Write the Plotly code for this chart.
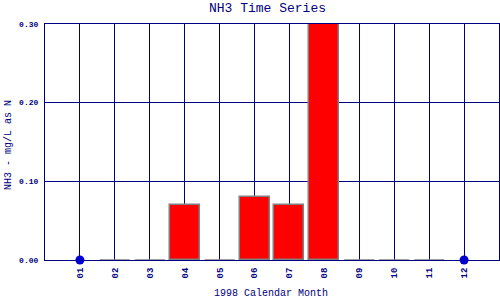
import plotly.graph_objects as go

months = list(range(1, 13))
month_labels = ["01", "02", "03", "04", "05", "06", "07", "08", "09", "10", "11", "12"]
nh3 = [None, 0.0, 0.0, 0.07, 0.0, 0.08, 0.07, 0.30, 0.0, 0.0, 0.0, None]
y_ticks = [0.0, 0.10, 0.20, 0.30]

NAVY = "#000080"
FONT = "Liberation Mono"
BAR_W = 0.86

# plot area in pixels
L, R, T, B = 45, 499, 24, 260
W, H = R - L, B - T


def px_x(x):
    return (x - L) / W


def px_y(y):
    return (B - y) / H


fig = go.Figure()

bx = [m for m, v in zip(months, nh3) if v is not None and v > 0]
by = [v for v in nh3 if v is not None and v > 0]
fig.add_trace(go.Bar(x=bx, y=by, width=BAR_W, marker=dict(color="#FF0000", line=dict(color="#808080", width=1.5)),
                     showlegend=False, hoverinfo="x+y"))

zx, zy = [], []
for m, v in zip(months, nh3):
    if v is not None and v == 0:
        zx += [m - BAR_W / 2, m + BAR_W / 2, None]
        zy += [v, v, None]
fig.add_trace(go.Scatter(x=zx, y=zy, mode="lines", line=dict(color="#808080", width=1.5),
                         showlegend=False, hoverinfo="skip", cliponaxis=False))

mx = [m for m, v in zip(months, nh3) if v is None]
fig.add_trace(go.Scatter(x=mx, y=[0] * len(mx), mode="markers", marker=dict(color="#0000CC", size=9),
                         showlegend=False, cliponaxis=False))

fig.update_layout(
    width=500, height=300,
    margin=dict(l=L, r=500 - R, t=T, b=300 - B),
    plot_bgcolor="white", paper_bgcolor="white",
    bargap=0,
    font=dict(family=FONT, color=NAVY),
    annotations=[
        dict(text="NH3 Time Series", x=px_x(267), y=px_y(9), xref="paper", yref="paper",
             xanchor="center", yanchor="middle", showarrow=False,
             font=dict(family=FONT, size=13, color=NAVY)),
        dict(text="1998 Calendar Month", x=px_x(271), y=px_y(293), xref="paper", yref="paper",
             xanchor="center", yanchor="middle", showarrow=False,
             font=dict(family=FONT, size=10, color=NAVY)),
        dict(text="NH3 - mg/L as N", x=px_x(8), y=px_y(145), xref="paper", yref="paper",
             xanchor="center", yanchor="middle", showarrow=False, textangle=-90,
             font=dict(family=FONT, size=10, color=NAVY)),
    ],
)
fig.update_xaxes(range=[0, 13], tickvals=months, ticktext=month_labels, tickangle=-90,
                 showgrid=True, gridcolor=NAVY, gridwidth=1, zeroline=False,
                 showline=True, linecolor=NAVY, linewidth=1.2, mirror=True, layer="below traces",
                 ticks="", ticklabelstandoff=3, tickfont=dict(family=FONT, size=9, color=NAVY, weight="bold"),
                 fixedrange=True)
fig.update_yaxes(range=[0, 0.30], tickvals=y_ticks, tickformat=".2f",
                 showgrid=True, gridcolor=NAVY, gridwidth=1, zeroline=False,
                 showline=True, linecolor=NAVY, linewidth=1.2, mirror=True, layer="below traces",
                 ticks="", ticklabelstandoff=4, tickfont=dict(family=FONT, size=8, color=NAVY, weight="bold"),
                 fixedrange=True)

fig.write_html("out.html")
